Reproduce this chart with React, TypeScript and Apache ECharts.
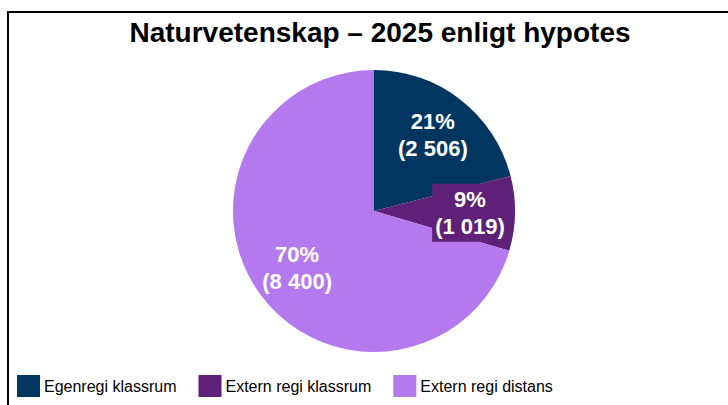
import React, { useEffect, useRef } from "react";
import * as echarts from "echarts";

const titleText = "Naturvetenskap – 2025 enligt hypotes";
const categories = ["Egenregi klassrum", "Extern regi klassrum", "Extern regi distans"];
const values = [2506, 1019, 8400];
const colors = ["#00365F", "#5E2177", "#B479EF"];
const labelBoxed = [false, true, false];

const fmt = (n: number) => String(n).replace(/\B(?=(\d{3})+(?!\d))/g, " ");

export default function App() {
  const ref = useRef<HTMLDivElement>(null);
  useEffect(() => {
    if (!ref.current) return;
    const chart = echarts.init(ref.current, undefined, { renderer: "svg" });
    const font = "'Liberation Sans', Arial, sans-serif";
    const baseData = categories.map((name, i) => ({
      name,
      value: values[i],
      itemStyle: { color: colors[i] },
    }));
    const labelData = categories.map((name, i) => ({
      name,
      value: values[i],
      label: labelBoxed[i]
        ? { backgroundColor: colors[i], padding: [2, 3, 2, 3] }
        : {},
    }));
    chart.setOption({
      animation: false,
      backgroundColor: "#fff",
      title: {
        text: titleText,
        left: 375,
        textAlign: "center",
        top: 13,
        textStyle: { fontFamily: font, fontSize: 28, fontWeight: "bold", color: "#000" },
      },
      legend: {
        left: 17,
        top: 375,
        padding: 0,
        itemWidth: 23,
        itemHeight: 22,
        itemGap: 22,
        icon: "rect",
        data: categories,
        textStyle: { fontFamily: font, fontSize: 16, color: "#000", padding: [0, 0, 0, -1] },
      },
      graphic: [
        {
          type: "rect",
          shape: { x: 8, y: 12, width: 800, height: 500 },
          style: { fill: "none", stroke: "#000", lineWidth: 2 },
          silent: true,
        },
      ],
      series: [
        {
          type: "pie",
          center: [374, 211],
          radius: [0, 141],
          startAngle: 90,
          clockwise: true,
          label: { show: false },
          labelLine: { show: false },
          data: baseData,
        },
        {
          type: "pie",
          center: [374, 211],
          radius: [0, 186],
          startAngle: 90,
          clockwise: true,
          silent: true,
          itemStyle: { color: "rgba(0,0,0,0)" },
          labelLine: { show: false },
          label: {
            show: true,
            position: "inside",
            color: "#fff",
            fontFamily: font,
            fontSize: 22,
            fontWeight: "bold",
            lineHeight: 27,
            formatter: (p: any) => `${Math.round(p.percent)}%\n(${fmt(p.value)})`,
          },
          data: labelData,
        },
      ],
    });
    return () => chart.dispose();
  }, []);
  return (
    <div
      ref={ref}
      style={{ position: "fixed", left: 0, top: 0, width: 728, height: 405 }}
    />
  );
}
